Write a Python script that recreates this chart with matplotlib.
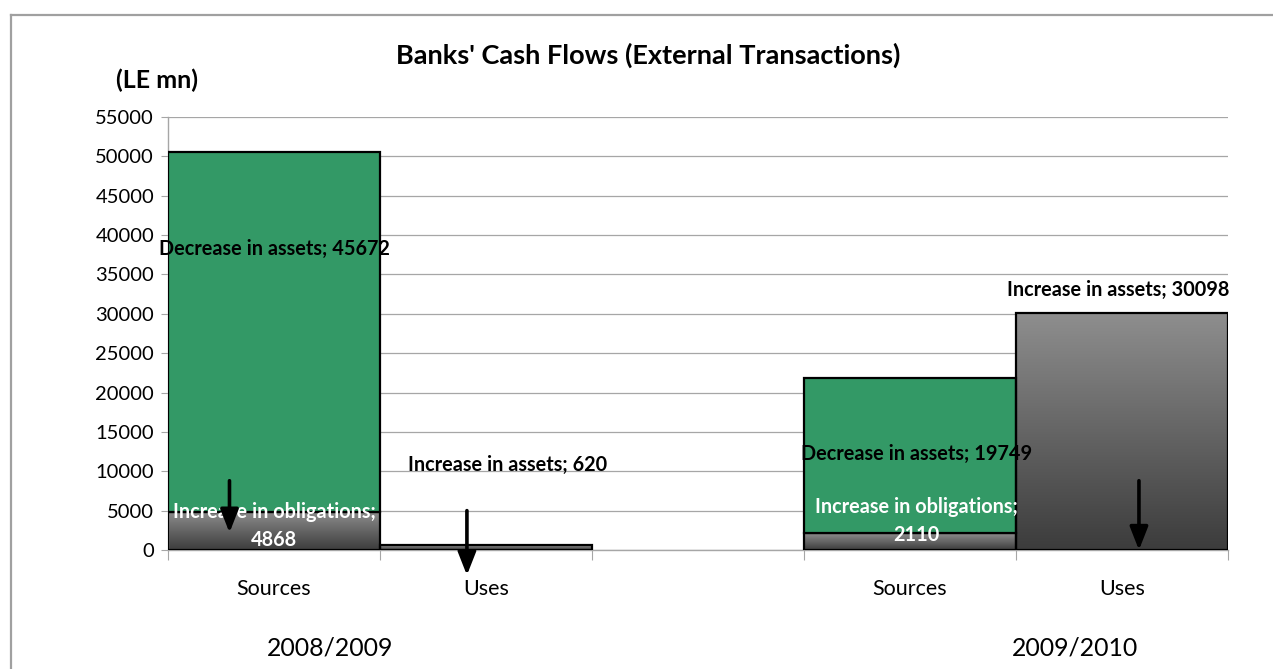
import matplotlib
matplotlib.use("Agg")
import matplotlib.pyplot as plt
import numpy as np
from matplotlib.colors import LinearSegmentedColormap
from matplotlib.lines import Line2D

plt.rcParams["font.family"] = ["Lato", "DejaVu Sans"]

# five slots on the category axis, the middle one left empty as a spacer
categories = ["Sources", "Uses", "", "Sources", "Uses"]
periods = ["2008/2009", "2009/2010"]
increase_obligations = [4868, 0, 0, 2110, 0]
decrease_assets = [45672, 0, 0, 19749, 0]
increase_assets = [0, 620, 0, 0, 30098]

GREEN = "#339966"
GRAY_TOP = "#8e8e8e"
GRAY_BOTTOM = "#3c3c3c"
GRID = "#a6a6a6"


def gradient_bar(ax, x, bottom, height):
    bar = ax.bar(x, height, bottom=bottom, width=1.0, color="none",
                 edgecolor="black", linewidth=1.6, zorder=3)[0]
    cmap = LinearSegmentedColormap.from_list("gray_fill", [GRAY_BOTTOM, GRAY_TOP])
    grad = np.linspace(0, 1, 256).reshape(-1, 1)
    im = ax.imshow(grad, cmap=cmap, origin="lower", aspect="auto",
                   extent=[x - 0.5, x + 0.5, bottom, bottom + height], zorder=2)
    im.set_clip_path(bar)


fig = plt.figure(figsize=(12.73, 6.69), dpi=100)
ax = fig.add_axes([168 / 1273, 1 - 550 / 669, (1228 - 168) / 1273, (550 - 117) / 669])

x = np.arange(len(categories)) + 0.5
for i in range(len(categories)):
    if increase_obligations[i]:
        gradient_bar(ax, x[i], 0, increase_obligations[i])
    if decrease_assets[i]:
        ax.bar(x[i], decrease_assets[i], bottom=increase_obligations[i], width=1.0,
               color=GREEN, edgecolor="black", linewidth=1.6, zorder=3)
    if increase_assets[i]:
        gradient_bar(ax, x[i], 0, increase_assets[i])

ax.set_xlim(0, len(categories))
ax.set_ylim(0, 55000)
ax.set_yticks(np.arange(0, 55001, 5000))
ax.yaxis.grid(True, color=GRID, linewidth=0.9)
ax.set_axisbelow(True)
ax.tick_params(axis="y", labelsize=14.5, length=5, color=GRID, pad=5)

ax.set_xticks(np.arange(0, len(categories) + 1))
ax.set_xticklabels([])
ax.set_xticks(x, minor=True)
ax.set_xticklabels(categories, minor=True, fontsize=15.5)
ax.tick_params(axis="x", which="major", length=7, color=GRID)
ax.tick_params(axis="x", which="minor", length=0, pad=21)

for side in ["top", "right"]:
    ax.spines[side].set_visible(False)
for side in ["left", "bottom"]:
    ax.spines[side].set_color(GRID)
    ax.spines[side].set_linewidth(1.0)

# data labels
bold = dict(fontsize=14.3, fontweight="bold", ha="center", va="center", zorder=5)
ax.text(0.5, 38237, f"Decrease in assets; {decrease_assets[0]}", color="black", **bold)
ax.text(0.5, 4827, "Increase in obligations;", color="white", **bold)
ax.text(0.5, 1270, f"{increase_obligations[0]}", color="white", **bold)
ax.text(1.6, 10800, f"Increase in assets; {increase_assets[1]}", color="black", **bold)
ax.text(3.53, 12195, f"Decrease in assets; {decrease_assets[3]}", color="black", **bold)
ax.text(3.53, 5460, "Increase in obligations;", color="white", **bold)
ax.text(3.53, 1905, f"{increase_obligations[3]}", color="white", **bold)
ax.text(4.48, 33030, f"Increase in assets; {increase_assets[4]}", color="black", **bold)

# flow arrows
arrow = dict(arrowstyle="-|>,head_width=0.55,head_length=1.4", color="black",
             linewidth=2.6, shrinkA=0, shrinkB=0)
for ax_x, y_from, y_to in [(0.29, 8800, 2200), (1.41, 5000, -3200), (4.58, 8800, 0)]:
    ax.annotate("", xy=(ax_x, y_to), xytext=(ax_x, y_from), arrowprops=arrow,
                annotation_clip=False, zorder=6)

fig.text(648 / 1273, 1 - 55 / 669, "Banks' Cash Flows (External Transactions)",
         fontsize=19.5, fontweight="bold", ha="center", va="center")
fig.text(157 / 1273, 1 - 80 / 669, "(LE mn)", fontsize=18, fontweight="bold",
         ha="center", va="center")
fig.text(330 / 1273, 1 - 648 / 669, periods[0], fontsize=17.9, ha="center", va="center")
fig.text(1075 / 1273, 1 - 648 / 669, periods[1], fontsize=17.9, ha="center", va="center")

# chart-area frame
fig.add_artist(Line2D([11 / 1273, 1], [1 - 15 / 669] * 2, color="#a0a0a0", linewidth=1.6))
fig.add_artist(Line2D([11 / 1273] * 2, [0, 1 - 15 / 669], color="#a0a0a0", linewidth=1.6))

fig.savefig("out.png", dpi=100)
